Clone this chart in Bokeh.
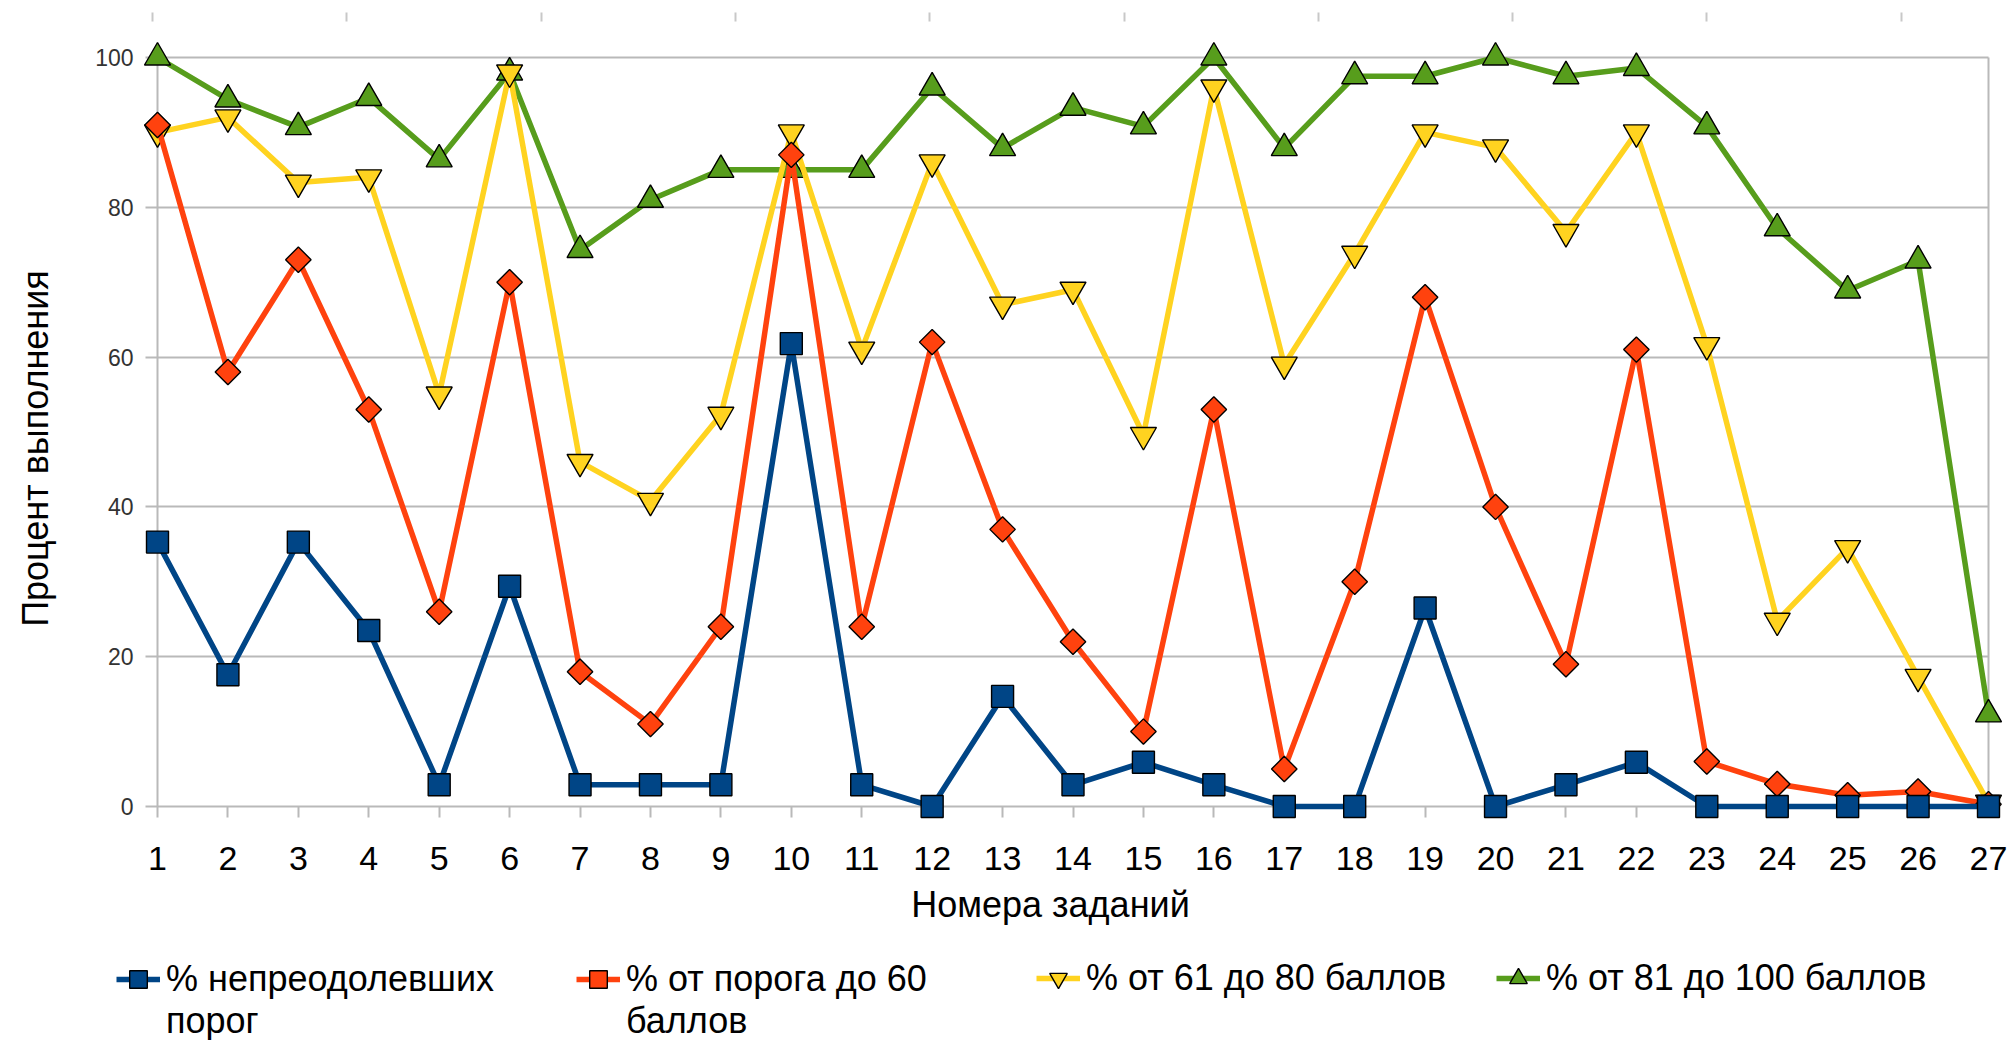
import math
from bokeh.plotting import figure
from bokeh.models import Range1d, FixedTicker, Legend, LegendItem, Grid
from bokeh.core.properties import value
from bokeh.embed import file_html
from bokeh.resources import INLINE

# ---------------- data ----------------
tasks = list(range(1, 28))
x_tick_labels = [str(t) for t in tasks]
y_ticks = [0, 20, 40, 60, 80, 100]
y_tick_labels = [str(t) for t in y_ticks]
x_title = "Номера заданий"
y_title = "Процент выполнения"

names = [
    "% непреодолевших\nпорог",
    "% от порога до 60\nбаллов",
    "% от 61 до 80 баллов",
    "% от 81 до 100 баллов",
]
s_fail = [35.3, 17.6, 35.3, 23.5, 2.9, 29.4, 2.9, 2.9, 2.9, 61.8,
          2.9, 0, 14.7, 2.9, 5.9, 2.9, 0, 0, 26.5, 0,
          2.9, 5.9, 0, 0, 0, 0, 0]
s_60 = [91, 58, 73, 53, 26, 70, 18, 11, 24, 87,
        24, 62, 37, 22, 10, 53, 5, 30, 68, 40,
        19, 61, 6, 3, 1.5, 2, 0.3]
s_80 = [90, 92, 83.3, 84, 55, 98, 46, 40.8, 52.3, 90,
        61, 86, 67, 69, 49.6, 96, 59, 73.8, 90, 88,
        76.7, 90, 61.6, 24.8, 34.5, 17.3, 0.5]
s_100 = [100, 94.4, 90.7, 94.6, 86.4, 98, 74.3, 81, 85, 85,
         85, 96, 87.9, 93.3, 90.8, 100, 87.9, 97.5, 97.5, 100,
         97.5, 98.6, 90.8, 77.2, 68.9, 72.9, 12.3]

series = [s_fail, s_60, s_80, s_100]
colors = ["#004586", "#ff420e", "#ffd320", "#579d1c"]
markers = ["square", "square", "inverted_triangle", "triangle"]
msizes = [22, 18, 26, 26]
mangles = [0, math.pi / 4, 0, 0]

FONT = "Liberation Sans"
GRID = "#b9b9b9"

# ---------------- layout helpers (pixel -> data) ----------------
W, H = 2014, 1040
X_LEFT_PX, X_RIGHT_PX = 157, 1988      # where the first / last task sit
Y_TOP_PX, Y_BOT_PX = 57, 806           # where 100 / 0 sit
PX_X = (X_RIGHT_PX - X_LEFT_PX) / (tasks[-1] - tasks[0])
PX_Y = (Y_BOT_PX - Y_TOP_PX) / (y_ticks[-1] - y_ticks[0])


def xd(px):
    return tasks[0] + (px - X_LEFT_PX) / PX_X


def yd(py):
    return y_ticks[0] + (Y_BOT_PX - py) / PX_Y


p = figure(width=W, height=H, title=None,
           x_range=Range1d(xd(0), xd(W)), y_range=Range1d(yd(H), yd(0)),
           x_axis_location=None, y_axis_location=None,
           output_backend="svg", toolbar_location=None,
           min_border=0, min_border_left=0, min_border_right=0,
           min_border_top=0, min_border_bottom=0)
p.outline_line_color = None
p.background_fill_color = "white"
p.border_fill_color = "white"

# horizontal grid lines, with short tick stubs left of the first task
p.ygrid.ticker = FixedTicker(ticks=y_ticks)
p.ygrid.grid_line_color = GRID
p.ygrid.grid_line_width = 2
p.ygrid.cross_bounds = (xd(X_LEFT_PX - 12), tasks[-1])

# tick marks below zero line
p.xgrid.ticker = FixedTicker(ticks=tasks)
p.xgrid.grid_line_color = GRID
p.xgrid.grid_line_width = 2
p.xgrid.cross_bounds = (yd(Y_BOT_PX + 11), y_ticks[0])

# left axis line and right border
edges = Grid(dimension=0, ticker=FixedTicker(ticks=[tasks[0], tasks[-1]]),
             grid_line_color=GRID, grid_line_width=2, cross_bounds=(y_ticks[0], y_ticks[-1]))
p.add_layout(edges)

# decorative marks above the chart
top_ticks = [xd(152 + k * 194.3) for k in range(10)]
top_marks = Grid(dimension=0, ticker=FixedTicker(ticks=top_ticks),
                 grid_line_color="#c8c8c8", grid_line_width=2,
                 cross_bounds=(yd(21), yd(12)))
p.add_layout(top_marks)

# ---------------- axis texts ----------------
p.text(x=tasks, y=[yd(858)] * len(tasks), text=x_tick_labels,
       text_font=value(FONT), text_font_size=value("34px"), text_color="black",
       text_align="center", text_baseline="alphabetic")
p.text(x=[xd(133)] * len(y_ticks), y=y_ticks, text=y_tick_labels,
       text_font=value(FONT), text_font_size=value("23px"), text_color="#333333",
       text_align="right", text_baseline="middle")
p.text(x=[xd(1050)], y=[yd(904)], text=[x_title],
       text_font=value(FONT), text_font_size=value("36px"), text_color="black",
       text_align="center", text_baseline="alphabetic")
p.text(x=[xd(35)], y=[yd(448)], text=[y_title], angle=math.pi / 2,
       text_font=value(FONT), text_font_size=value("36px"), text_color="black",
       text_align="center", text_baseline="middle")

# ---------------- series ----------------
rends = {}
for i in [3, 2, 1, 0]:
    lr = p.line(tasks, series[i], line_color=colors[i], line_width=5.5)
    sr = p.scatter(tasks, series[i], marker=markers[i], size=msizes[i], angle=mangles[i],
                   fill_color=colors[i], line_color="black", line_width=1.4)
    rends[i] = [lr, sr]

# ---------------- legend ----------------
# two-line labels get an empty leading line so that the glyph sits on the first text line
leg_left = [116, 576, 1036, 1496]
leg_bottom = [1042, 1042, 1000, 1000]
for i in range(4):
    label = ("\n" + names[i]) if "\n" in names[i] else names[i]
    leg = Legend(items=[LegendItem(label=label, renderers=rends[i])],
                 location=(leg_left[i], H - leg_bottom[i]),
                 orientation="horizontal",
                 border_line_color=None, background_fill_alpha=0,
                 padding=0, margin=0, spacing=0,
                 glyph_width=44, glyph_height=44, label_standoff=6,
                 label_text_font=FONT, label_text_font_size="36px",
                 label_text_color="black")
    p.add_layout(leg)

open("out.html", "w").write(file_html(p, INLINE))
